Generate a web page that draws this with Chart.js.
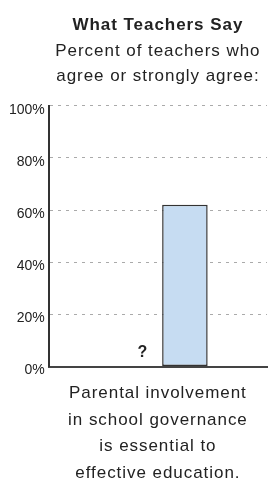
<!DOCTYPE html>
<html>
<head>
<meta charset="utf-8">
<script src="https://cdn.jsdelivr.net/npm/chart.js@4"></script>
<style>
  html, body { margin: 0; padding: 0; background: #fff; }
  #wrap { width: 270px; height: 478px; }
</style>
</head>
<body>
<div id="wrap"><canvas id="chart"></canvas></div>
<script>
const categories = [["Parental involvement", "in school governance", "is essential to", "effective education."]];
const parentValues = [null];
const teacherValues = [62];
const unknownLabel = "?";
const yTicks = [0, 20, 40, 60, 80, 100];

const FONT = "'Liberation Sans', Arial, sans-serif";

// y scale that draws its labels without the extra letter spacing
class PlainLinearScale extends Chart.LinearScale {
  drawLabels(area) {
    const prev = this.ctx.letterSpacing;
    this.ctx.letterSpacing = "0px";
    super.drawLabels(area);
    this.ctx.letterSpacing = prev;
  }
}
PlainLinearScale.id = "plainLinear";
PlainLinearScale.defaults = Chart.LinearScale.defaults;
Chart.register(PlainLinearScale);

// letter spacing like the original artwork (only while drawing)
const spacing = {
  id: "spacing",
  beforeUpdate(chart) { chart.ctx.letterSpacing = "0px"; },
  beforeDraw(chart) { chart.ctx.letterSpacing = "0.95px"; },
};

// the "?" where the parents bar would be
const questionMark = {
  id: "questionMark",
  afterDatasetsDraw(chart) {
    const ctx = chart.ctx;
    const meta = chart.getDatasetMeta(0);
    const y0 = chart.scales.y.getPixelForValue(0);
    meta.data.forEach((el, i) => {
      if (parentValues[i] !== null) return;
      ctx.save();
      ctx.font = "bold 16px " + FONT;
      ctx.fillStyle = "#222";
      ctx.textAlign = "center";
      ctx.textBaseline = "bottom";
      ctx.fillText(unknownLabel, el.x + 12, y0 - 6);
      ctx.restore();
    });
  },
};

new Chart(document.getElementById("chart"), {
  type: "bar",
  data: {
    labels: categories,
    datasets: [
      {
        label: "Parents",
        data: parentValues,
        backgroundColor: "#c6dcf2",
      },
      {
        label: "Teachers",
        data: teacherValues,
        backgroundColor: "#c6dcf2",
        borderColor: "#333",
        borderWidth: 1.5,
        borderSkipped: false,
      },
    ],
  },
  options: {
    responsive: true,
    maintainAspectRatio: false,
    animation: false,
    layout: { padding: { left: 5, right: 3, bottom: 0 } },
    datasets: { bar: { categoryPercentage: 0.495, barPercentage: 0.843 } },
    plugins: {
      legend: { display: false },
      tooltip: { enabled: false },
      title: {
        display: true,
        fullSize: false,
        text: "What Teachers Say",
        color: "#222",
        font: { family: FONT, size: 17, weight: "bold" },
        padding: { top: 15, bottom: 4 },
      },
      subtitle: {
        display: true,
        fullSize: false,
        text: ["Percent of teachers who", "agree or strongly agree:"],
        color: "#222",
        font: { family: FONT, size: 17, lineHeight: 1.45 },
        padding: { top: 0, bottom: 17 },
      },
    },
    scales: {
      x: {
        grid: { display: false, drawTicks: false },
        border: { display: true, color: "#444", width: 2 },
        // tick padding is counted on both sides; give the extra back to the plot
        afterFit(scale) { scale.height -= 22; },
        ticks: {
          color: "#222",
          padding: 14,
          font: { family: FONT, size: 17, lineHeight: 1.55 },
        },
      },
      y: {
        type: "plainLinear",
        min: 0,
        max: 100,
        afterBuildTicks(axis) { axis.ticks = yTicks.map((v) => ({ value: v })); },
        grid: { color: "#aaa", lineWidth: 1, drawTicks: false },
        border: { display: true, color: "#333", width: 2, dash: [3, 5] },
        ticks: {
          color: "#222",
          padding: 4,
          labelOffset: 4,
          font: { family: FONT, size: 14 },
          callback: (v) => v + "%",
        },
      },
    },
  },
  plugins: [spacing, questionMark],
});
</script>
</body>
</html>
